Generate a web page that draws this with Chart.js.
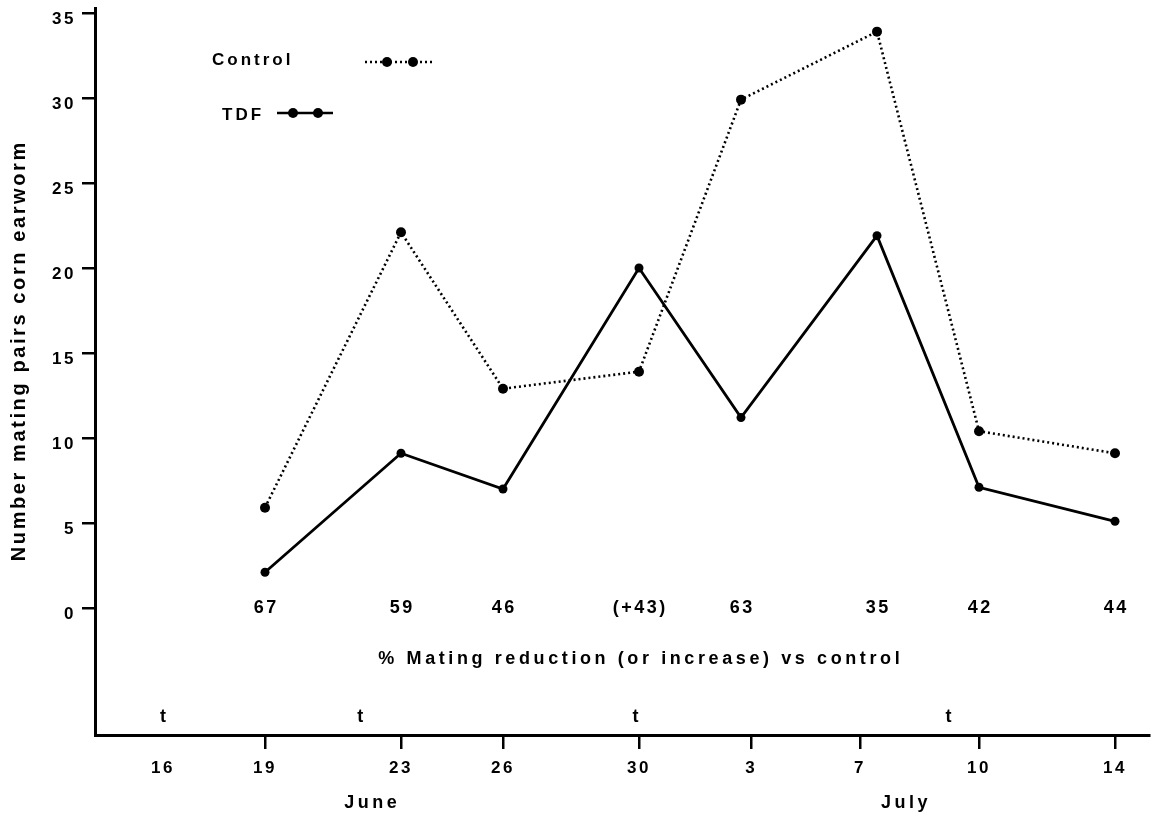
<!DOCTYPE html>
<html>
<head>
<meta charset="utf-8">
<script src="https://cdn.jsdelivr.net/npm/chart.js@4.4.0/dist/chart.umd.min.js"></script>
<style>
  html, body { margin: 0; padding: 0; background: #fff; }
  canvas { display: block; }
</style>
</head>
<body>
<canvas id="chart" width="1156" height="818"></canvas>
<script>
// Sampling dates, counted in days from June 16
const sampleDays = [3, 7, 10, 14, 17, 21, 24, 28];
// Number of mating pairs found on each date
const controlPairs = [5.9, 22.1, 12.9, 13.9, 29.9, 33.9, 10.4, 9.1];
const tdfPairs = [2.1, 9.1, 7.0, 20.0, 11.2, 21.9, 7.1, 5.1];
// % mating reduction (or increase) vs control, one per date
const reductionLabels = ['67', '59', '46', '(+43)', '63', '35', '42', '44'];
// Date axis ticks
const dateTickDays = [0, 3, 7, 10, 14, 17.3, 20.5, 24, 28];
const dateTickLabels = ['16', '19', '23', '26', '30', '3', '7', '10', '14'];
const yTickValues = [0, 5, 10, 15, 20, 25, 30, 35];
// Treatment dates ("t")
const treatmentDays = [0, 5.8, 13.9, 23.1];
const monthLabels = ['June', 'July'];
const monthDays = [6.1, 21.8];

const FONT = '"Liberation Sans", Arial, Helvetica, sans-serif';

function spacedText(ctx, str, x, y, size, spacing, align) {
  ctx.save();
  ctx.font = 'bold ' + size + 'px ' + FONT;
  ctx.letterSpacing = spacing + 'px';
  ctx.fillStyle = '#000';
  ctx.textBaseline = 'middle';
  ctx.textAlign = align || 'center';
  let dx = 0;
  if (!align || align === 'center') dx = spacing / 2;
  ctx.fillText(str, x + dx, y);
  ctx.restore();
}

const backdrop = {
  id: 'backdrop',
  beforeDraw(chart) {
    const ctx = chart.ctx;
    ctx.save();
    ctx.fillStyle = '#fff';
    ctx.fillRect(0, 0, chart.width, chart.height);
    ctx.restore();
    ctx.letterSpacing = '2.5px';
  }
};

const annotations = {
  id: 'annotations',
  afterDraw(chart) {
    const ctx = chart.ctx;
    const xs = chart.scales.x, ys = chart.scales.y;
    const area = chart.chartArea;

    // Percent reduction values along the zero line
    reductionLabels.forEach((lab, i) => {
      spacedText(ctx, lab, xs.getPixelForValue(sampleDays[i]), ys.getPixelForValue(0), 18, 2.5);
    });
    spacedText(ctx, '% Mating reduction (or increase) vs control',
      xs.getPixelForValue(14), ys.getPixelForValue(-3), 18, 3.6);

    // Treatment marks
    treatmentDays.forEach(d => {
      spacedText(ctx, 't', xs.getPixelForValue(d), area.bottom - 18, 18, 0);
    });

    // Month names below the date ticks
    monthLabels.forEach((m, i) => {
      spacedText(ctx, m, xs.getPixelForValue(monthDays[i]), area.bottom + 68, 18, 3.5);
    });

    // Y-axis title
    ctx.save();
    ctx.translate(19, 352);
    ctx.rotate(-Math.PI / 2);
    spacedText(ctx, 'Number mating pairs corn earworm', 0, 0, 20, 2.6);
    ctx.restore();

    // Legend
    const lx = area.left, ly = area.top;
    spacedText(ctx, 'Control', lx + 117, ly + 52, 17, 3, 'left');
    spacedText(ctx, 'TDF', lx + 127, ly + 107, 17, 3, 'left');
    ctx.save();
    ctx.strokeStyle = '#000';
    ctx.lineWidth = 2.5;
    ctx.setLineDash([2, 3]);
    ctx.beginPath();
    ctx.moveTo(lx + 270, ly + 54);
    ctx.lineTo(lx + 340, ly + 54);
    ctx.stroke();
    ctx.setLineDash([]);
    ctx.beginPath();
    ctx.moveTo(lx + 182, ly + 105);
    ctx.lineTo(lx + 238, ly + 105);
    ctx.stroke();
    ctx.fillStyle = '#000';
    [[292, 54], [318, 54], [198, 105], [223, 105]].forEach(p => {
      ctx.beginPath();
      ctx.arc(lx + p[0], ly + p[1], 5, 0, Math.PI * 2);
      ctx.fill();
    });
    ctx.restore();
  }
};

const toPoints = vals => vals.map((v, i) => ({ x: sampleDays[i], y: v }));

new Chart(document.getElementById('chart'), {
  type: 'line',
  data: {
    datasets: [
      {
        label: 'Control',
        data: toPoints(controlPairs),
        borderColor: '#000',
        backgroundColor: '#000',
        borderWidth: 2.6,
        borderDash: [2, 3],
        pointRadius: 5,
        pointBorderWidth: 0,
        tension: 0
      },
      {
        label: 'TDF',
        data: toPoints(tdfPairs),
        borderColor: '#000',
        backgroundColor: '#000',
        borderWidth: 2.8,
        pointRadius: 4.5,
        pointBorderWidth: 0,
        tension: 0
      }
    ]
  },
  options: {
    responsive: false,
    animation: false,
    events: [],
    layout: { padding: { top: 8, right: 7, left: 0, bottom: 0 } },
    plugins: { legend: { display: false }, tooltip: { enabled: false } },
    scales: {
      x: {
        type: 'linear',
        min: -2,
        max: 29,
        afterBuildTicks: s => { s.ticks = dateTickDays.map(v => ({ value: v })); },
        afterFit: s => { s.height = 83; s.paddingLeft = 0; s.paddingRight = 0; },
        ticks: {
          color: '#000',
          font: { family: FONT, size: 17, weight: 'bold' },
          padding: 9,
          maxRotation: 0,
          autoSkip: false,
          callback: (v) => {
            const i = dateTickDays.indexOf(v);
            return i >= 0 ? dateTickLabels[i] : '';
          }
        },
        grid: {
          drawOnChartArea: false,
          drawTicks: true,
          tickLength: 14,
          lineWidth: 2.5,
          color: c => (c.tick && c.tick.value === 0) ? 'rgba(0,0,0,0)' : '#000'
        },
        border: { display: true, color: '#000', width: 3 }
      },
      y: {
        type: 'linear',
        min: -7.47,
        max: 35.29,
        afterBuildTicks: s => { s.ticks = yTickValues.map(v => ({ value: v })); },
        afterFit: s => { s.width = 95; s.paddingTop = 0; s.paddingBottom = 0; },
        ticks: {
          color: '#000',
          font: { family: FONT, size: 17, weight: 'bold' },
          padding: 6,
          labelOffset: 6
        },
        grid: {
          drawOnChartArea: false,
          drawTicks: true,
          tickLength: 13,
          lineWidth: 2.5,
          color: '#000'
        },
        border: { display: true, color: '#000', width: 3 }
      }
    }
  },
  plugins: [backdrop, annotations]
});
</script>
</body>
</html>
